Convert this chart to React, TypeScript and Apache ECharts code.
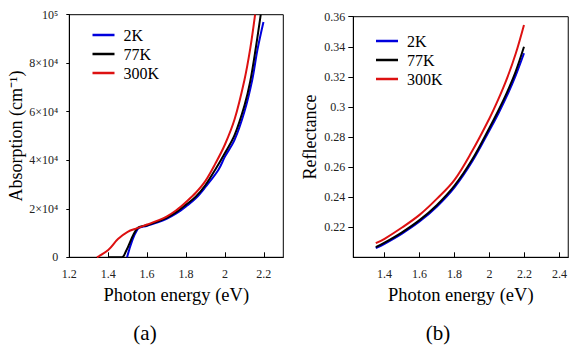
import React, { useEffect, useRef } from "react";
import * as echarts from "echarts";

// ---- Panel (a): absorption ----
const absEnergy2K = [1.497, 1.55, 1.6, 1.65, 1.7, 1.75, 1.8, 1.85, 1.9, 1.966, 2.0, 2.05, 2.1, 2.14, 2.167, 2.198];
const abs2K = [0, 11500, 13000, 14300, 15900, 18100, 21000, 24300, 29000, 36000, 41500, 48500, 60000, 73000, 85500, 97000];

const absEnergy77K = [1.4, 1.47, 1.49, 1.55, 1.6, 1.65, 1.7, 1.75, 1.8, 1.85, 1.9, 1.953, 2.0, 2.05, 2.1, 2.13, 2.16, 2.184];
const abs77K = [0, 0, 2300, 12000, 13200, 14600, 16300, 18600, 21700, 25000, 29800, 36500, 43000, 50500, 62500, 72500, 87000, 100000];

const absEnergy300K = [1.342, 1.4, 1.45, 1.5, 1.55, 1.6, 1.65, 1.7, 1.75, 1.8, 1.85, 1.9, 1.95, 2.0, 2.05, 2.1, 2.13, 2.155];
const abs300K = [0, 3000, 7500, 10500, 12000, 13500, 15000, 16800, 19400, 22800, 26600, 31500, 38500, 46500, 57000, 73000, 86000, 100000];

const absXTicks = [1.2, 1.4, 1.6, 1.8, 2.0, 2.2];
const absYTicks = [0, 20000, 40000, 60000, 80000, 100000];
const absYLabels = ["0", "2×10⁴", "4×10⁴", "6×10⁴", "8×10⁴", "10⁵"];

// ---- Panel (b): reflectance ----
const reflEnergy = [1.35, 1.4, 1.5, 1.6, 1.7, 1.8, 1.9, 2.0, 2.05, 2.1, 2.15, 2.197];
const refl2K = [0.2061, 0.209, 0.2158, 0.2238, 0.2338, 0.2465, 0.2635, 0.2845, 0.2955, 0.3075, 0.321, 0.3357];
const refl77K = [0.2068, 0.2097, 0.2166, 0.2247, 0.2348, 0.2476, 0.2648, 0.2862, 0.2975, 0.3097, 0.3237, 0.34];
const refl300K = [0.2094, 0.2123, 0.2198, 0.2282, 0.239, 0.2515, 0.2705, 0.2925, 0.305, 0.319, 0.3355, 0.3545];

const reflXTicks = [1.4, 1.6, 1.8, 2.0, 2.2, 2.4];
const reflYTicks = [0.22, 0.24, 0.26, 0.28, 0.3, 0.32, 0.34, 0.36];

const seriesNames = ["2K", "77K", "300K"];
const colors = ["#0000dd", "#000000", "#dd1111"];

const FONT = "Times New Roman";

const zip = (xs: number[], ys: number[]) => xs.map((x, i) => [x, ys[i]]);

export default function App() {
  const ref = useRef<HTMLDivElement>(null);
  useEffect(() => {
    if (!ref.current) return;
    const chart = echarts.init(ref.current, undefined, { renderer: "svg" });

    const lineSeries = (name: string, color: string, data: number[][], idx: number) => ({
      type: "line",
      name,
      xAxisIndex: idx,
      yAxisIndex: idx,
      data,
      showSymbol: false,
      symbol: "none",
      smooth: 0.35,
      lineStyle: { color, width: 2 },
      itemStyle: { color },
      z: 3,
    });

    const axisLabelStyle = { color: "#222", fontFamily: FONT, fontSize: 12, fontWeight: "normal" };
    const nameStyle = { color: "#000", fontFamily: FONT, fontSize: 18.5, fontWeight: "normal" };
    const legendCommon = {
      orient: "vertical",
      padding: 0,
      itemWidth: 22,
      itemHeight: 2.5,
      itemGap: 3,
      icon: "rect",
      data: seriesNames,
      textStyle: { fontFamily: FONT, fontSize: 16, color: "#000", padding: [0, 0, 0, 4] },
      selectedMode: false,
    };

    chart.setOption({
      animation: false,
      backgroundColor: "#fff",
      textStyle: { fontFamily: FONT },
      grid: [
        { left: 69.3, top: 14.7, width: 214, height: 242.6, show: true, borderColor: "#000", borderWidth: 1 },
        { left: 353.3, top: 16.7, width: 223, height: 240.6, show: true, borderColor: "#000", borderWidth: 1 },
      ],
      legend: [
        { ...legendCommon, left: 92.5, top: 27 },
        { ...legendCommon, left: 376, top: 33 },
      ],
      xAxis: [
        {
          type: "value",
          gridIndex: 0,
          min: 1.2,
          max: 2.3,
          name: "Photon energy (eV)",
          nameLocation: "middle",
          nameGap: 27,
          nameTextStyle: nameStyle,
          axisLine: { lineStyle: { color: "#000", width: 1 } },
          axisTick: { inside: true, length: 5, customValues: absXTicks, lineStyle: { color: "#000" } },
          axisLabel: { ...axisLabelStyle, margin: 11, customValues: absXTicks, formatter: (v: number) => String(Number(v.toFixed(1))) },
          splitLine: { show: false },
        },
        {
          type: "value",
          gridIndex: 1,
          min: 1.2215,
          max: 2.45,
          name: "Photon energy (eV)",
          nameLocation: "middle",
          nameGap: 27,
          nameTextStyle: nameStyle,
          axisLine: { lineStyle: { color: "#000", width: 1 } },
          axisTick: { inside: true, length: 5, customValues: reflXTicks, lineStyle: { color: "#000" } },
          axisLabel: { ...axisLabelStyle, margin: 11, customValues: reflXTicks, formatter: (v: number) => String(Number(v.toFixed(1))) },
          splitLine: { show: false },
        },
      ],
      yAxis: [
        {
          type: "value",
          gridIndex: 0,
          min: 0,
          max: 100000,
          name: "Absorption (cm⁻¹)",
          nameLocation: "middle",
          nameGap: 41,
          nameRotate: 90,
          nameTextStyle: { ...nameStyle, fontSize: 18 },
          axisLine: { show: true, lineStyle: { color: "#000", width: 1 } },
          axisTick: { show: true, inside: false, length: 3, customValues: absYTicks, lineStyle: { color: "#000" } },
          axisLabel: {
            ...axisLabelStyle,
            margin: 11,
            customValues: absYTicks,
            formatter: (v: number) => absYLabels[absYTicks.indexOf(v)] ?? "",
          },
          splitLine: { show: false },
        },
        {
          type: "value",
          gridIndex: 1,
          min: 0.2,
          max: 0.36,
          name: "Reflectance",
          nameLocation: "middle",
          nameGap: 34,
          nameRotate: 90,
          nameTextStyle: { ...nameStyle, fontSize: 18 },
          axisLine: { show: true, lineStyle: { color: "#000", width: 1 } },
          axisTick: { show: true, inside: false, length: 5, customValues: reflYTicks, lineStyle: { color: "#000" } },
          axisLabel: {
            ...axisLabelStyle,
            margin: 8,
            customValues: reflYTicks,
            formatter: (v: number) => String(Number(v.toFixed(2))),
          },
          splitLine: { show: false },
        },
      ],
      graphic: [
        { type: "text", x: 145, y: 333, style: { text: "(a)", fontFamily: FONT, fontSize: 21, fill: "#000", align: "center", verticalAlign: "middle" } },
        { type: "text", x: 438, y: 333, style: { text: "(b)", fontFamily: FONT, fontSize: 21, fill: "#000", align: "center", verticalAlign: "middle" } },
      ],
      series: [
        lineSeries(seriesNames[0], colors[0], zip(absEnergy2K, abs2K), 0),
        lineSeries(seriesNames[1], colors[1], zip(absEnergy77K, abs77K), 0),
        lineSeries(seriesNames[2], colors[2], zip(absEnergy300K, abs300K), 0),
        lineSeries(seriesNames[0], colors[0], zip(reflEnergy, refl2K), 1),
        lineSeries(seriesNames[1], colors[1], zip(reflEnergy, refl77K), 1),
        lineSeries(seriesNames[2], colors[2], zip(reflEnergy, refl300K), 1),
      ],
    });

    return () => chart.dispose();
  }, []);

  return (
    <div
      ref={ref}
      style={{ position: "fixed", left: 0, top: 0, width: 570, height: 349, background: "#fff" }}
    />
  );
}
